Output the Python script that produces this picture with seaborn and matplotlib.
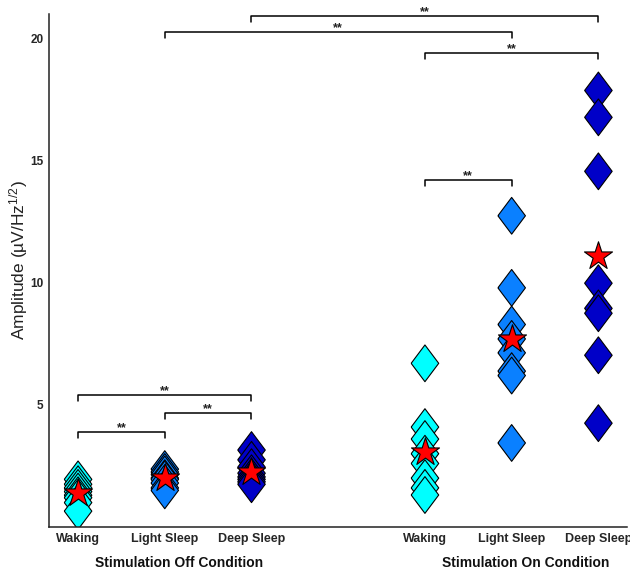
import pandas as pd
import numpy as np
import matplotlib.pyplot as plt
import seaborn as sns

# values (amplitude, uV/Hz^1/2)
states = ['Waking', 'Light Sleep', 'Deep Sleep']
conditions = ['Stimulation Off Condition', 'Stimulation On Condition']

off_waking = [1.95, 1.75, 1.6, 1.45, 1.3, 1.2, 1.0, 0.65]
off_light = [2.37, 2.25, 2.15, 2.0, 1.95, 1.8, 1.6, 1.5]
off_deep = [3.15, 2.75, 2.45, 2.2, 2.05, 1.95, 1.85, 1.75]
on_waking = [6.7, 4.09, 3.6, 3.0, 2.6, 2.0, 1.6, 1.31]
on_light = [12.74, 9.79, 8.29, 7.7, 7.13, 6.38, 6.2, 3.44]
on_deep = [17.87, 16.77, 14.56, 9.98, 8.95, 8.75, 7.03, 4.25]

mean_off = [1.39, 2.0, 2.27]
mean_on = [3.05, 7.69, 11.08]

# significance brackets: (from group, to group, height)
brackets = [(0, 1, 3.90), (1, 2, 4.66), (0, 2, 5.40), (3, 4, 14.19),
            (3, 5, 19.39), (1, 4, 20.25), (2, 5, 20.93)]

state_colors = ['#00FFFF', '#0A80FF', '#0000C8']

SAVE = True


def group_pos(i):
  # two blocks of three, one empty slot between them
  return i + 1 if i < 3 else i + 2


def build_frames():
  groups = [off_waking, off_light, off_deep, on_waking, on_light, on_deep]
  dfs = []
  for i, vals in enumerate(groups):
    dfs.append(pd.DataFrame({'pos': group_pos(i), 'amp': vals,
                             'state': states[i % 3]}))
  data = pd.concat(dfs, ignore_index=True)
  means = pd.DataFrame({'pos': [group_pos(i) for i in range(6)],
                        'amp': mean_off + mean_on})
  return data, means


def plot_amplitudes(data, means):
  sns.set_theme(style='white')
  plt.rcParams['font.family'] = ['Liberation Sans', 'DejaVu Sans']
  plt.rcParams['mathtext.default'] = 'regular'

  fig = plt.figure(figsize=(6.3, 5.75), dpi=100)
  ax = fig.add_axes([49 / 630, 48 / 575, 578 / 630, 513 / 575])

  diamond = [(-0.75, 0), (0, 1), (0.75, 0), (0, -1), (-0.75, 0)]
  sns.scatterplot(x='pos', y='amp', hue='state', data=data, palette=state_colors,
                  hue_order=states, marker=diamond, s=700, edgecolor='black',
                  linewidth=0.8, legend=False, ax=ax, zorder=2)
  sns.scatterplot(x='pos', y='amp', data=means, marker='*', s=450, color='#FF0000',
                  edgecolor='black', linewidth=0.8, legend=False, ax=ax, zorder=3)

  for a, b, h in brackets:
    x1, x2 = group_pos(a), group_pos(b)
    ax.plot([x1, x1, x2, x2], [h - 0.25, h, h, h - 0.25], color='black',
            linewidth=1.1, clip_on=False, zorder=4)
    ax.text((x1 + x2) / 2, h + 0.03, '**', ha='center', va='baseline',
            fontsize=9, fontweight='bold', color='#222222')

  ax.set(xlim=(0.665, 7.33), ylim=(0, 21), xlabel='')
  ax.set_xticks([group_pos(i) for i in range(6)])
  ax.set_xticklabels(states * 2)
  ax.set_yticks([5, 10, 15, 20])
  ax.tick_params(axis='both', direction='in', length=3.6, width=1,
                 color='#222222', labelcolor='#262626', pad=4)
  for lab in ax.get_xticklabels():
    lab.set_fontsize(9)
    lab.set_fontweight('bold')
  for lab in ax.get_yticklabels():
    lab.set_fontsize(8.5)
    lab.set_fontweight('bold')

  ax.set_ylabel('Amplitude (µV/Hz$^{1/2}$)', fontsize=12.5, color='#222222')
  ax.yaxis.set_label_coords(-0.033, 0.52)

  for k, cond in enumerate(conditions):
    ax.text(group_pos(3 * k + 1) + 0.16, -36 / 513, cond, ha='center',
            va='center', fontsize=10, fontweight='bold', color='#111111',
            transform=ax.get_xaxis_transform())

  sns.despine(ax=ax)
  for side in ['left', 'bottom']:
    ax.spines[side].set_color('#222222')
    ax.spines[side].set_linewidth(1.1)

  if SAVE:
    fig.savefig('out.png', dpi=100)


if __name__ == '__main__':
  data, means = build_frames()
  plot_amplitudes(data, means)
